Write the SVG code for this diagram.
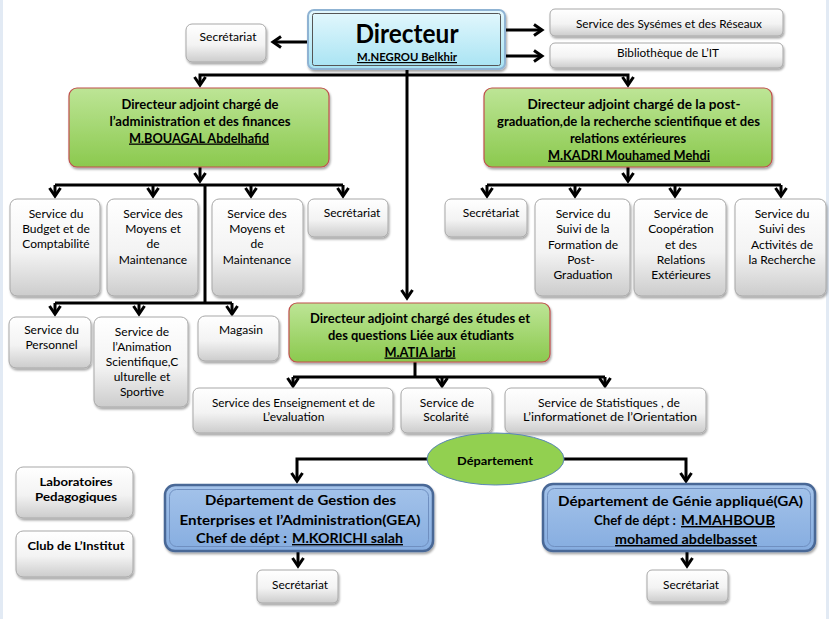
<svg xmlns="http://www.w3.org/2000/svg" width="829" height="619" viewBox="0 0 829 619">
<style>
text{font-family:Lato,"Liberation Sans",sans-serif;fill:#000;text-anchor:middle}
.r{font-size:12px}
.s{font-size:10.5px}
.b12{font-size:12px;font-weight:bold}
.b13{font-size:13px;font-weight:bold}
.b14{font-size:14px;font-weight:bold}
.st{text-anchor:start}
.u{text-decoration:underline}
.gray{fill:url(#gg);stroke:#a8a8a8;stroke-width:1;filter:url(#sh)}
.green{fill:url(#gr);stroke:#c0504d;stroke-width:1.2;filter:url(#sh)}
.blue{fill:url(#bl);stroke:#4a6896;stroke-width:2.5;filter:url(#sh)}
.blin{fill:none;stroke:#6f8fc0;stroke-width:1}
.c{fill:none;stroke:#000;stroke-width:3;stroke-linejoin:miter}
.a{marker-end:url(#ar)}
</style>
<defs>
<linearGradient id="gg" x1="0" y1="0" x2="0" y2="1">
<stop offset="0" stop-color="#ffffff"/><stop offset="0.55" stop-color="#f3f3f3"/><stop offset="1" stop-color="#cccccc"/>
</linearGradient>
<linearGradient id="gr" x1="0" y1="0" x2="0" y2="1">
<stop offset="0" stop-color="#bde596"/><stop offset="1" stop-color="#8bc94e"/>
</linearGradient>
<linearGradient id="cy" x1="0" y1="0" x2="0" y2="1">
<stop offset="0" stop-color="#e4f8fd"/><stop offset="1" stop-color="#a7e3f3"/>
</linearGradient>
<linearGradient id="bl" x1="0" y1="0" x2="0" y2="1">
<stop offset="0" stop-color="#a4c3ea"/><stop offset="1" stop-color="#86ade0"/>
</linearGradient>
<filter id="sh" x="-10%" y="-10%" width="130%" height="140%">
<feDropShadow dx="1" dy="2" stdDeviation="1.2" flood-color="#000" flood-opacity="0.35"/>
</filter>
<marker id="ar" markerUnits="userSpaceOnUse" markerWidth="14" markerHeight="14" viewBox="0 0 14 14" refX="11" refY="7" orient="auto" overflow="visible">
<path d="M3,1.5 L11,7 L3,12.5" fill="none" stroke="#000" stroke-width="3"/>
</marker>
</defs>
<rect x="0" y="0" width="829" height="619" fill="#ffffff"/>
<rect x="0" y="0" width="3" height="619" fill="#e2eaf4"/>
<rect x="826" y="0" width="3" height="619" fill="#e2eaf4"/>

<g id="connectors">
<path class="c a" d="M308,42 H273"/>
<path class="c a" d="M505,30 H542"/>
<path class="c a" d="M505,56 H542"/>
<path class="c a" d="M407,69 V298"/>
<path class="c a" d="M407,75 H200 V85"/>
<path class="c a" d="M407,75 H628 V85"/>
<path class="c a" d="M200,167 V181"/>
<path class="c" d="M55,185 H343"/>
<path class="c a" d="M55,185 V196"/>
<path class="c a" d="M153,185 V196"/>
<path class="c a" d="M251,185 V196"/>
<path class="c a" d="M343,185 V196"/>
<path class="c" d="M205,185 V303"/>
<path class="c" d="M55,303 H232"/>
<path class="c a" d="M55,303 V314"/>
<path class="c a" d="M139,303 V314"/>
<path class="c a" d="M232,303 V314"/>
<path class="c a" d="M628,167 V181"/>
<path class="c" d="M487,185 H781"/>
<path class="c a" d="M487,185 V196"/>
<path class="c a" d="M575,185 V196"/>
<path class="c a" d="M675,185 V196"/>
<path class="c a" d="M781,185 V196"/>
<path class="c" d="M415,362 V377"/>
<path class="c" d="M293,377 H605"/>
<path class="c a" d="M293,377 V386"/>
<path class="c a" d="M442,377 V386"/>
<path class="c a" d="M605,377 V386"/>
<path class="c a" d="M428,459 H297 V481"/>
<path class="c a" d="M563,459 H686 V481"/>
<path class="c a" d="M298,551 V566"/>
<path class="c a" d="M687,551 V566"/>
</g>

<g id="n-sec-dir"><rect class="gray" x="186" y="24" width="80" height="38" rx="6"/><text class="s" x="228" y="41" textLength="57" lengthAdjust="spacingAndGlyphs">Secrétariat</text></g>

<g id="n-dir">
<rect x="308" y="10" width="197" height="59" rx="6" fill="url(#cy)" stroke="#8fb3d3" stroke-width="2" filter="url(#sh)"/>
<rect x="312.5" y="13.5" width="188" height="52" rx="2" fill="none" stroke="#555" stroke-width="1"/>
<text x="407" y="43" style="font-size:26px;font-weight:bold" textLength="103" lengthAdjust="spacingAndGlyphs">Directeur</text>
<text class="b12 u" x="407" y="61" textLength="100" lengthAdjust="spacingAndGlyphs">M.NEGROU Belkhir</text>
</g>

<g id="n-sys"><rect class="gray" x="550" y="9" width="233" height="27" rx="5"/><text class="r" x="669" y="28" textLength="186" lengthAdjust="spacingAndGlyphs">Service des Sysémes et des Réseaux</text></g>
<g id="n-bib"><rect class="gray" x="550" y="43" width="233" height="25" rx="5"/><text class="r" x="668" y="57" textLength="102" lengthAdjust="spacingAndGlyphs">Bibliothèque de L’IT</text></g>

<g id="n-admin">
<rect class="green" x="69" y="88" width="260" height="79" rx="8"/>
<text class="b13" x="200" y="108.5" textLength="157" lengthAdjust="spacingAndGlyphs">Directeur adjoint chargé de</text>
<text class="b13" x="200" y="125.5" textLength="181" lengthAdjust="spacingAndGlyphs">l’administration et des finances</text>
<text class="b13 u" x="199" y="142.5" textLength="140" lengthAdjust="spacingAndGlyphs">M.BOUAGAL Abdelhafid</text>
</g>

<g id="n-pg">
<rect class="green" x="484" y="88" width="288" height="79" rx="8"/>
<text class="b13" x="634" y="108.5" textLength="213" lengthAdjust="spacingAndGlyphs">Directeur adjoint chargé de la post-</text>
<text class="b13" x="628.5" y="125.5" textLength="263" lengthAdjust="spacingAndGlyphs">graduation,de la recherche scientifique et des</text>
<text class="b13" x="628" y="142.5" textLength="116" lengthAdjust="spacingAndGlyphs">relations extérieures</text>
<text class="b13 u" x="629" y="159.5" textLength="162" lengthAdjust="spacingAndGlyphs">M.KADRI Mouhamed Mehdi</text>
</g>

<g id="n-budget"><rect class="gray" x="10" y="199" width="90" height="97" rx="7"/>
<text class="r" x="56" y="218">Service du</text><text class="r" x="56" y="233">Budget et de</text><text class="r" x="56" y="248">Comptabilité</text></g>
<g id="n-moyens1"><rect class="gray" x="107" y="199" width="91" height="97" rx="7"/>
<text class="r" x="153" y="218">Service des</text><text class="r" x="153" y="233">Moyens et</text><text class="r" x="153" y="248">de</text><text class="r" x="153" y="264">Maintenance</text></g>
<g id="n-moyens2"><rect class="gray" x="212" y="199" width="91" height="97" rx="7"/>
<text class="r" x="257" y="218">Service des</text><text class="r" x="257" y="233">Moyens et</text><text class="r" x="257" y="248">de</text><text class="r" x="257" y="264">Maintenance</text></g>
<g id="n-sec-adm"><rect class="gray" x="308" y="199" width="80" height="38" rx="6"/><text class="r" x="352" y="217">Secrétariat</text></g>

<g id="n-pers"><rect class="gray" x="9" y="317" width="82" height="51" rx="7"/>
<text class="r" x="51.5" y="334">Service du</text><text class="r" x="51.5" y="349">Personnel</text></g>
<g id="n-anim"><rect class="gray" x="94" y="317" width="94" height="90" rx="7"/>
<text class="r" x="142" y="336">Service de</text><text class="r" x="142" y="351">l’Animation</text><text class="r" x="142" y="366">Scientifique,C</text><text class="r" x="142" y="381">ulturelle et</text><text class="r" x="142" y="396">Sportive</text></g>
<g id="n-mag"><rect class="gray" x="198" y="316" width="81" height="45" rx="7"/><text class="r" x="241" y="334">Magasin</text></g>

<g id="n-sec-pg"><rect class="gray" x="445" y="199" width="82" height="38" rx="6"/><text class="r" x="491" y="217">Secrétariat</text></g>
<g id="n-form"><rect class="gray" x="535" y="199" width="95" height="97" rx="7"/>
<text class="r" x="583" y="218">Service du</text><text class="r" x="583" y="233">Suivi de la</text><text class="r" x="583" y="248.5">Formation de</text><text class="r" x="581" y="264">Post-</text><text class="r" x="583" y="279">Graduation</text></g>
<g id="n-coop"><rect class="gray" x="634" y="199" width="92" height="97" rx="7"/>
<text class="r" x="681" y="218">Service de</text><text class="r" x="681" y="233">Coopération</text><text class="r" x="681" y="248.5">et des</text><text class="r" x="681" y="264">Relations</text><text class="r" x="681" y="279">Extérieures</text></g>
<g id="n-rech"><rect class="gray" x="735" y="199" width="91" height="97" rx="7"/>
<text class="r" x="782" y="218">Service du</text><text class="r" x="782" y="233">Suivi des</text><text class="r" x="782" y="248.5">Activités de</text><text class="r" x="782" y="264">la Recherche</text></g>

<g id="n-etud">
<rect class="green" x="289" y="303" width="261" height="59" rx="8"/>
<text class="b13" x="420" y="322.5" textLength="220" lengthAdjust="spacingAndGlyphs">Directeur adjoint chargé des études et</text>
<text class="b13" x="421" y="339.5" textLength="186" lengthAdjust="spacingAndGlyphs">des questions Liée aux étudiants</text>
<text class="b13 u" x="420" y="356.5" textLength="71" lengthAdjust="spacingAndGlyphs">M.ATIA larbi</text>
</g>

<g id="n-ens"><rect class="gray" x="193" y="388" width="200" height="45" rx="6"/>
<text class="r" x="293.5" y="407" textLength="163" lengthAdjust="spacingAndGlyphs">Service des Enseignement et de</text><text class="r" x="293.5" y="421">L’evaluation</text></g>
<g id="n-scol"><rect class="gray" x="401" y="388" width="91" height="45" rx="6"/>
<text class="r" x="447" y="407">Service de</text><text class="r" x="446" y="421">Scolarité</text></g>
<g id="n-stat"><rect class="gray" x="505" y="388" width="201" height="45" rx="6"/>
<text class="r" x="609" y="407" textLength="142" lengthAdjust="spacingAndGlyphs">Service de Statistiques , de</text><text class="r" x="610" y="421" textLength="174" lengthAdjust="spacingAndGlyphs">L’informationet de l’Orientation</text></g>

<g id="n-dept">
<ellipse cx="495.5" cy="459" rx="68.5" ry="26" fill="#92d050" stroke="#5b86b8" stroke-width="1"/>
<text class="b12" x="495" y="465" textLength="76" lengthAdjust="spacingAndGlyphs">Département</text>
</g>

<g id="n-gea">
<rect class="blue" x="165" y="485" width="268" height="66" rx="10"/>
<rect class="blin" x="169.5" y="489.5" width="259" height="57" rx="7"/>
<text class="b14" x="300.5" y="505" textLength="191" lengthAdjust="spacingAndGlyphs">Département de Gestion des</text>
<text class="b14" x="300" y="525" textLength="241" lengthAdjust="spacingAndGlyphs">Enterprises et l’Administration(GEA)</text>
<text class="b14 st" x="196" y="543" textLength="91" lengthAdjust="spacingAndGlyphs">Chef de dépt :</text>
<text class="b14 st u" x="292" y="543" textLength="111" lengthAdjust="spacingAndGlyphs">M.KORICHI salah</text>
</g>

<g id="n-ga">
<rect class="blue" x="543" y="484" width="272" height="67" rx="10"/>
<rect class="blin" x="547.5" y="488.5" width="263" height="58" rx="7"/>
<text class="b14" x="680.5" y="506" textLength="245" lengthAdjust="spacingAndGlyphs">Département de Génie appliqué(GA)</text>
<text class="b14 st" x="594" y="525" textLength="82" lengthAdjust="spacingAndGlyphs">Chef de dépt :</text>
<text class="b14 st u" x="681" y="525" textLength="94" lengthAdjust="spacingAndGlyphs">M.MAHBOUB</text>
<text class="b14 u" x="686" y="544" textLength="142" lengthAdjust="spacingAndGlyphs">mohamed abdelbasset</text>
</g>

<g id="n-sec-gea"><rect class="gray" x="257" y="570" width="81" height="33" rx="5"/><text class="s" x="300" y="589" textLength="56" lengthAdjust="spacingAndGlyphs">Secrétariat</text></g>
<g id="n-sec-ga"><rect class="gray" x="647" y="570" width="81" height="32" rx="5"/><text class="s" x="691" y="589" textLength="56" lengthAdjust="spacingAndGlyphs">Secrétariat</text></g>

<g id="n-labo"><rect class="gray" x="16" y="467" width="117" height="51" rx="7"/>
<text class="b12" x="76" y="486" textLength="73" lengthAdjust="spacingAndGlyphs">Laboratoires</text><text class="b12" x="76" y="501" textLength="82" lengthAdjust="spacingAndGlyphs">Pedagogiques</text></g>
<g id="n-club"><rect class="gray" x="16" y="531" width="117" height="46" rx="7"/>
<text class="b12" x="76" y="550" textLength="97" lengthAdjust="spacingAndGlyphs">Club de L’Institut</text></g>
</svg>
